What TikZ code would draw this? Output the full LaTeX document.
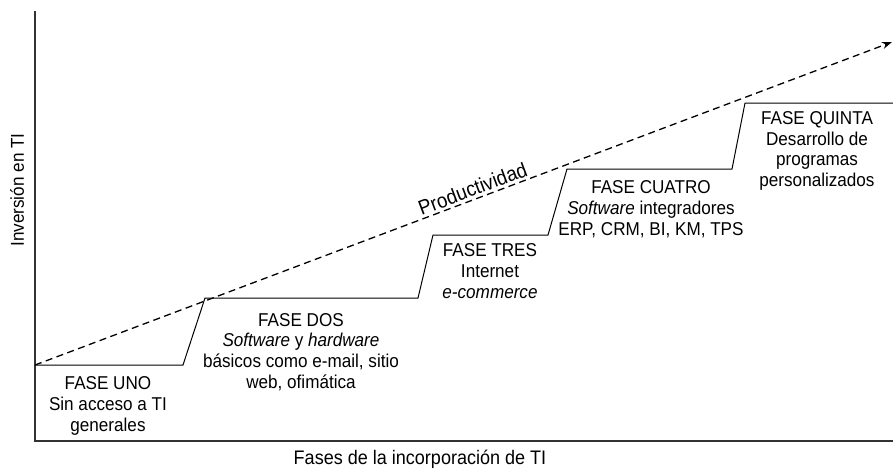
\documentclass[tikz,border=0pt]{standalone}
\usepackage{fontspec}
\setmainfont{Liberation Sans}[FakeStretch=0.92]
\usetikzlibrary{arrows.meta}

\begin{document}
\begin{tikzpicture}[x=1pt, y=-1pt, thick,
  fase/.style={align=center, font=\fontsize{18.6}{20.8}\selectfont, inner sep=0pt},
  axis/.style={line width=1.6pt, draw=black!80},
  stair/.style={line width=1pt},
  prod/.style={dash pattern=on 7pt off 4.5pt, line width=1.3pt, -{Stealth[length=10pt, width=7pt]}}]
	\useasboundingbox (0,0) rectangle (893,472);
	% ejes
	\coordinate (top) at (35,11);
	\coordinate (origin) at (35,441);
	\coordinate (end) at (893,441);
	\draw[axis] (top) -- (origin) -- (end);
	\node[fase, rotate=90] (yl) at (17,190) {Inversión en TI};
	\node[fase, font=\fontsize{19.6}{21}\selectfont] (xl) at (420,459) {Fases de la incorporación de TI};
	% escalones
	\coordinate (a0) at (35,365);
	\coordinate (a1) at (183,365);
	\coordinate (b0) at (205,298);
	\coordinate (b1) at (418,298);
	\coordinate (c0) at (433,235);
	\coordinate (c1) at (548,235);
	\coordinate (d0) at (567,169);
	\coordinate (d1) at (732,169);
	\coordinate (e0) at (745,103);
	\coordinate (e1) at (893,103);
	\draw[stair] (a0) -- (a1) -- (b0) -- (b1) -- (c0) -- (c1) -- (d0) -- (d1) -- (e0) -- (e1);
	% productividad
	\coordinate (tip) at (892,42);
	\draw[prod] (a0) -- node[pos=0.515, above, sloped, inner sep=2.5pt, font=\fontsize{20.5}{22}\selectfont] (pl) {Productividad} (tip);
	% fases
	\node[fase] (uno) at (108,406) {FASE UNO\\Sin acceso a TI\\generales};
	\node[fase] (dos) at (301,352) {FASE DOS\\\textit{Software} y \textit{hardware}\\básicos como e-mail, sitio\\web, ofimática};
	\node[fase] (tres) at (490,271) {FASE TRES\\Internet\\\textit{e-commerce}};
	\node[fase] (cuatro) at (651,209) {FASE CUATRO\\\textit{Software} integradores\\ERP, CRM, BI, KM, TPS};
	\node[fase] (quinta) at (817,151) {FASE QUINTA\\Desarrollo de\\programas\\personalizados};
\end{tikzpicture}
\end{document}
